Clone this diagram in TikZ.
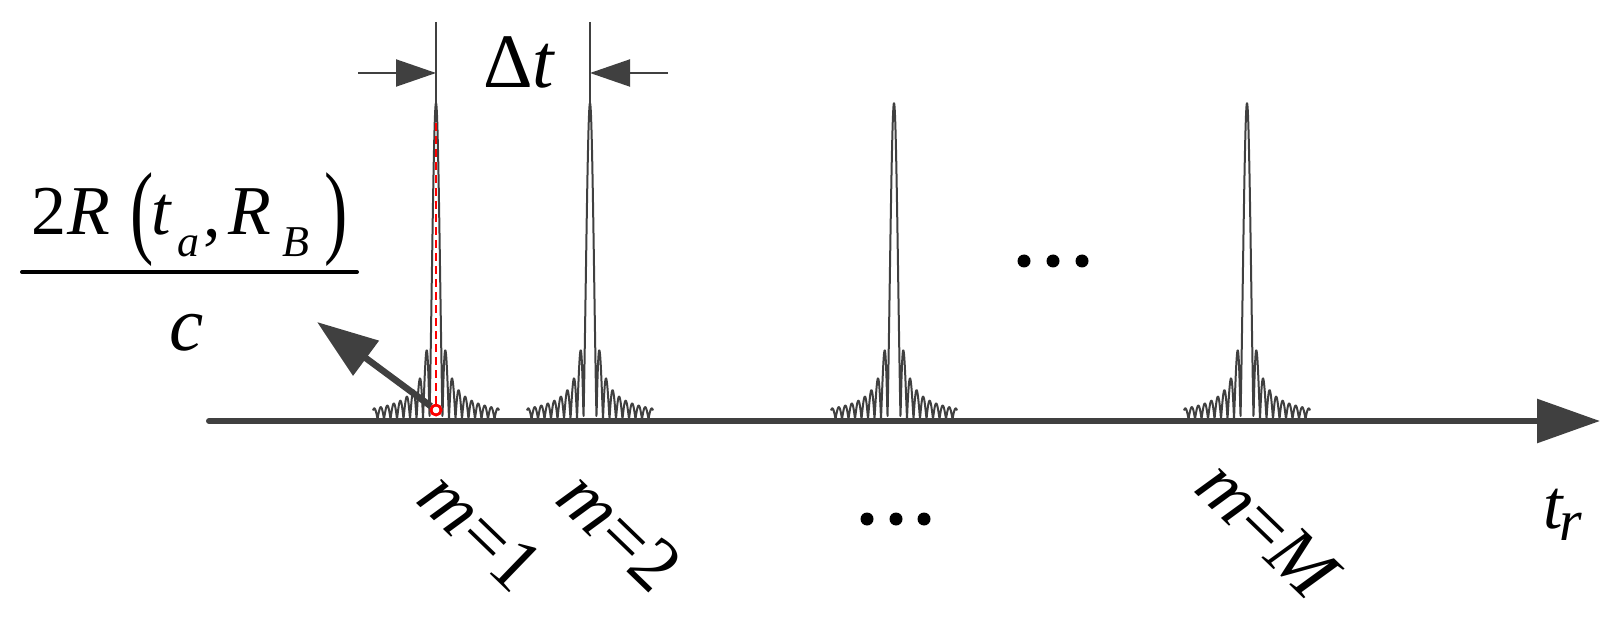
\documentclass[tikz,border=0pt]{standalone}
\usepackage{fontspec}
\setmainfont{Liberation Serif}
\usetikzlibrary{arrows.meta}
\definecolor{dk}{RGB}{64,64,64}
\begin{document}
\begin{tikzpicture}[x=1pt,y=-1pt,
  peak/.style={draw=dk, line width=2pt, line join=round},
  thin/.style={draw=dk, line width=2pt},
  dimarrow/.style={draw=dk, line width=2pt, -{Triangle[length=40pt,width=27pt]}, fill=dk},
  num/.style={inner sep=0pt, anchor=base west, font=\fontsize{70}{75}\selectfont},
  sub/.style={inner sep=0pt, anchor=base west, font=\fontsize{44}{48}\selectfont},
  big/.style={inner sep=0pt, font=\fontsize{77}{82}\selectfont},
  mlabel/.style={inner sep=0pt, rotate=-44, font=\fontsize{76}{80}\selectfont},
  dot/.style={fill=black, draw=none}]
\useasboundingbox (0,0) rectangle (1619,620);

% peaks
\foreach \c in {436,590,894,1247}{
  \draw[peak] plot[domain=-63:63, samples=500]
    ({\c+\x}, {419-316*abs(sin(\x*180/6.5)/(\x*pi/6.5))});
}

% axis
\coordinate (ax0) at (209,421);
\coordinate (ax1) at (1600,421);
\draw[dk, line width=6pt, line cap=round, -{Triangle[length=63pt,width=43pt]}] (ax0) -- (ax1);

% extension lines and dimension arrows
\coordinate (e1top) at (436,22);
\coordinate (e1bot) at (436,110);
\coordinate (e2top) at (590,22);
\coordinate (e2bot) at (590,106);
\draw[thin] (e1top) -- (e1bot);
\draw[thin] (e2top) -- (e2bot);
\coordinate (d1s) at (358,73);
\coordinate (d1e) at (436,73);
\coordinate (d2s) at (668,73);
\coordinate (d2e) at (590,73);
\draw[dimarrow] (d1s) -- (d1e);
\draw[dimarrow] (d2s) -- (d2e);
\node[big, anchor=base west] (dt) at (483,88) {Δ\textit{t}};

% red marker
\node[circle, draw=red, line width=2.5pt, minimum size=10pt, inner sep=0pt] (rc) at (436,410) {};
\coordinate (atip) at (317,322);
\draw[dk, line width=6.5pt, -{Triangle[length=61pt,width=42pt]}] (rc) -- (atip);
\coordinate (rtop) at (436,123);
\draw[red, line width=2.2pt, dash pattern=on 8pt off 5pt] (rtop) -- (rc.north);
\node[circle, draw=red, line width=2.5pt, minimum size=10pt, inner sep=0pt] (rc2) at (436,410) {};

% fraction
\node[num] (n2) at (31,235) {2};
\node[num] (nR) at (67,235) {\textit{R}};
\node[num] (lp) at (130,245) {\scalebox{1}[1.48]{(}};
\node[num] (nt) at (151,235) {\textit{t}};
\node[sub] (na) at (177,257) {\textit{a}};
\node[num] (nc) at (203,237) {,};
\node[num] (nR2) at (228,235) {\textit{R}};
\node[sub] (nB) at (282,257) {\textit{B}};
\node[num] (rp) at (324,245) {\scalebox{1}[1.48]{)}};
\coordinate (fb0) at (22,272);
\coordinate (fb1) at (357,272);
\draw[black, line width=4pt, line cap=round] (fb0) -- (fb1);
\node[big, anchor=base] (den) at (187,350) {\textit{c}};

% t_r
\node[inner sep=0pt, anchor=base west, font=\fontsize{70}{75}\selectfont] (tr) at (1543,528) {\textit{t}};
\node[inner sep=0pt, anchor=base west, font=\fontsize{58}{60}\selectfont] (trs) at (1559,540) {\textit{r}};

% m labels
\node[mlabel] (m1) at (481,531) {\textit{m}=1};
\node[mlabel] (m2) at (620,531) {\textit{m}=2};
\node[mlabel] (mM) at (1269,530) {\textit{m}=\textit{M}};

% ellipses
\foreach \x in {1024,1053,1082}{\fill[dot] (\x,261) circle (6.5);}
\foreach \x in {867,896,924}{\fill[dot] (\x,519) circle (6.5);}
\end{tikzpicture}
\end{document}
